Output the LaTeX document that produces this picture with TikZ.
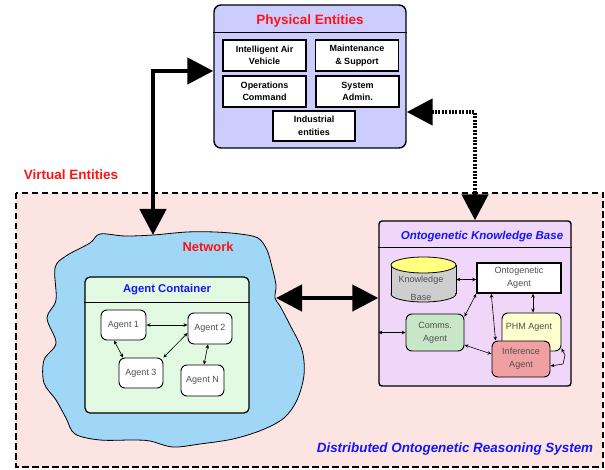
\documentclass[tikz,border=0pt]{standalone}
\usepackage{fontspec}
\setmainfont{Liberation Sans}
\usetikzlibrary{arrows.meta}
\definecolor{physfill}{RGB}{204,204,255}
\definecolor{virtfill}{RGB}{252,228,226}
\definecolor{netfill}{RGB}{160,214,246}
\definecolor{contfill}{RGB}{226,250,226}
\definecolor{kbfill}{RGB}{240,214,248}
\definecolor{dbtop}{RGB}{255,255,128}
\definecolor{dbbody}{RGB}{206,206,206}
\definecolor{commsfill}{RGB}{200,230,200}
\definecolor{phmfill}{RGB}{255,255,208}
\definecolor{inffill}{RGB}{240,160,160}
\definecolor{titlered}{RGB}{255,20,20}
\definecolor{titleblue}{RGB}{20,20,255}
\definecolor{agentgray}{RGB}{80,80,80}

\begin{document}
\begin{tikzpicture}[x=1pt,y=-1pt,
  bigtip/.style={Triangle[length=26pt,width=26pt]},
  bigarrow/.style={line width=4.5pt,{Triangle[length=26pt,width=26pt]}-{Triangle[length=26pt,width=26pt]}},
  dotarrow/.style={bigarrow,dash pattern=on 2pt off 1.4pt},
  titlered/.style={text=titlered,font=\fontsize{13.5}{16}\selectfont\bfseries},
  titleblue/.style={text=titleblue,font=\fontsize{11.3}{14}\selectfont\bfseries},
  entbox/.style={draw,line width=1.6pt,fill=white,minimum width=83pt,
    minimum height=31pt,align=center,inner sep=1pt,
    font=\fontsize{9}{12.5}\selectfont\bfseries},
  agentbox/.style={draw,line width=0.9pt,rounded corners=6pt,fill=white,
    minimum width=44pt,minimum height=30pt,align=center,text=agentgray,
    font=\fontsize{9}{13}\selectfont},
  agenttext/.style={text=agentgray,align=center,font=\fontsize{9}{13}\selectfont},
  link/.style={line width=0.6pt,{Stealth[length=4pt,width=3.5pt]}-{Stealth[length=4pt,width=3.5pt]}}]
  \useasboundingbox (0,0) rectangle (605,470);

  % virtual entities frame
  \node[titlered] (virtual) at (71,175) {Virtual Entities};
  \draw[fill=virtfill,line width=2.6pt,dash pattern=on 6.5pt off 3.5pt]
    (16,193) rectangle (603,467);
  \node[text=titleblue,font=\fontsize{13.4}{16}\selectfont\bfseries\itshape]
    (dors) at (455,449) {Distributed Ontogenetic Reasoning System};

  % physical entities
  \node[draw,line width=1.4pt,rounded corners=7pt,fill=physfill,
    minimum width=192pt,minimum height=143pt] (phys) at (310,76.5) {};
  \draw[line width=1.2pt] ([yshift=-28pt]phys.north west) -- ([yshift=-28pt]phys.north east);
  \node[titlered] (phystitle) at (310,21) {Physical Entities};
  \node[entbox] (iav) at (264.5,55.5) {Intelligent Air\\Vehicle};
  \node[entbox] (mns) at (357,55.5) {Maintenance\\\& Support};
  \node[entbox] (opc) at (264.5,91.5) {Operations\\Command};
  \node[entbox] (sysad) at (357.5,91.5) {System\\Admin.};
  \node[entbox,minimum width=82pt,minimum height=30pt] (indent) at (314,126) {Industrial\\entities};

  % network cloud
  \draw[fill=netfill,line width=0.8pt] plot[smooth cycle,tension=0.55] coordinates {
    (90,243) (100,234) (125,236) (153,235) (187,232) (215,232) (240,234)
    (258,238) (267,250) (272,267) (276,285) (275,298) (280,306) (290,325)
    (302,350) (304,375) (297,400) (284,418) (262,430) (233,439) (200,444)
    (173,447) (150,441) (133,440) (100,440) (75,434) (66,418) (56,400)
    (44,383) (44,360) (56,343) (47,318) (56,300) (55,268) (66,256)};
  \coordinate (nettop) at (153,235);
  \coordinate (netright) at (276,298);
  \node[titlered,font=\fontsize{12.9}{15}\selectfont\bfseries] (net) at (208,247) {Network};

  % agent container
  \node[draw,line width=1.2pt,rounded corners=5pt,fill=contfill,
    minimum width=164pt,minimum height=136pt] (cont) at (167,345) {};
  \draw[line width=1pt] ([yshift=-26pt]cont.north west) -- ([yshift=-26pt]cont.north east);
  \node[titleblue] (conttitle) at (167,290) {Agent Container};
  \node[agentbox,minimum width=45pt] (a1) at (123.5,325) {Agent 1};
  \node[agentbox,minimum height=31pt] (a2) at (210,328.5) {Agent 2};
  \node[agentbox] (a3) at (141,373) {Agent 3};
  \node[agentbox,minimum width=43pt,minimum height=31pt] (an) at (202.5,380.5) {Agent N};
  \draw[link] (a1.east) -- (a1.east -| a2.west);
  \draw[link] ([xshift=-9.5pt]a1.south) -- ([xshift=-18pt]a3.north);
  \draw[link] ([yshift=-4.5pt]a2.west) -- (a3.north east);
  \draw[link] ([xshift=-2pt]a2.south) -- ([xshift=1.5pt]an.north);

  % ontogenetic knowledge base
  \node[draw,line width=1.4pt,rounded corners=3pt,fill=kbfill,
    minimum width=192pt,minimum height=165pt] (kb) at (475,303.5) {};
  \draw[line width=1.2pt] ([yshift=-27pt]kb.north west) -- ([yshift=-27pt]kb.north east);
  \node[titleblue,font=\fontsize{11.5}{14}\selectfont\bfseries\itshape] (kbtitle) at (482,237)
    {Ontogenetic Knowledge Base};

  % knowledge base store
  \node[minimum width=65pt,minimum height=45pt,inner sep=0pt] (kbase) at (423.5,279.5) {};
  \fill[dbbody] (391,265) rectangle (456,294);
  \draw[fill=dbbody,line width=0.8pt] (423.5,294) ellipse [x radius=32.5pt,y radius=8pt];
  \fill[dbbody] (391.4,265) rectangle (455.6,293);
  \draw[line width=0.8pt] (391,265) -- (391,294) (456,265) -- (456,294);
  \draw[fill=dbtop,line width=0.8pt] (423.5,265) ellipse [x radius=32.5pt,y radius=8pt];
  \node[agenttext] (kbaselbl) at (421,280) {Knowledge};
  \node[agenttext] (kbaselbl2) at (421,297) {Base};

  \node[draw,line width=1.5pt,fill=white,minimum width=84pt,minimum height=30pt,
    agenttext] (onto) at (519,278) {Ontogenetic\\Agent};
  \node[agentbox,fill=commsfill,minimum width=58pt,minimum height=37pt] (comms)
    at (435,332.5) {Comms.\\Agent};
  \node[agentbox,fill=phmfill,minimum width=59pt,minimum height=38pt] (phm) at (531.5,332) {};
  \node[agenttext] (phmlbl) at (529,327) {PHM Agent};
  \node[agentbox,fill=inffill,minimum width=58pt,minimum height=36pt] (inf)
    at (521,359) {Inference\\Agent};

  \draw[link] (kbase.east) -- (kbase.east -| onto.west);
  \draw[link] (onto.south west) -- ([yshift=-3pt]comms.north east);
  \draw[link] ([xshift=15pt]onto.south west) -- ([xshift=4pt]inf.north west);
  \draw[link] ([xshift=14pt]onto.south) -- ([xshift=14pt]onto.south |- phm.north);
  \draw[link] ([yshift=-12.5pt]comms.east) -- ([yshift=5pt]inf.west);
  \draw[link] (comms.west) -- (comms.west -| kb.west);
  \draw[link] ([yshift=3pt]phm.south east) -- (565,355) -- (563,364) -- ([yshift=-7pt]inf.east);

  % big connectors
  \draw[bigarrow] (nettop) |- ([yshift=5.5pt]phys.west);
  \draw[dotarrow] ([yshift=-35.5pt]phys.east) -| (kb.north);
  \draw[bigarrow] (netright) -- (netright -| kb.west);
\end{tikzpicture}
\end{document}
